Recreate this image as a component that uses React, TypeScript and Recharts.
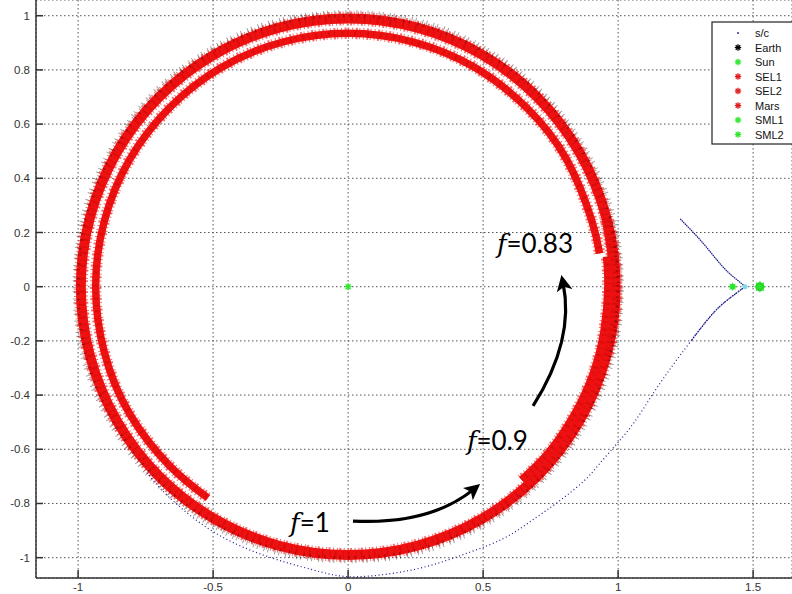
import React from 'react';
import { ComposedChart, Line, Scatter, XAxis, YAxis, CartesianGrid } from 'recharts';

// Axis setup
const X_TICKS = [-1, -0.5, 0, 0.5, 1, 1.5];
const Y_TICKS = [-1, -0.8, -0.6, -0.4, -0.2, 0, 0.2, 0.4, 0.6, 0.8, 1];
const X_DOMAIN: [number, number] = [-1.156, 1.644];
const Y_DOMAIN: [number, number] = [-1.075, 1.058];

// Earth's orbit (black asterisks), one full turn plus a small overlap
const earthOrbit = [
  { x: 0.97, y: -0.26 }, { x: 1.0, y: 0.0 }, { x: 0.97, y: 0.26 }, { x: 0.87, y: 0.5 },
  { x: 0.71, y: 0.71 }, { x: 0.5, y: 0.87 }, { x: 0.26, y: 0.97 }, { x: 0.0, y: 1.0 },
  { x: -0.26, y: 0.97 }, { x: -0.5, y: 0.87 }, { x: -0.71, y: 0.71 }, { x: -0.87, y: 0.5 },
  { x: -0.97, y: 0.26 }, { x: -1.0, y: 0.0 }, { x: -0.97, y: -0.26 }, { x: -0.87, y: -0.5 },
  { x: -0.71, y: -0.71 }, { x: -0.5, y: -0.87 }, { x: -0.26, y: -0.97 }, { x: 0.0, y: -1.0 },
  { x: 0.26, y: -0.97 }, { x: 0.5, y: -0.87 }, { x: 0.71, y: -0.71 }, { x: 0.87, y: -0.5 },
  { x: 0.97, y: -0.26 }, { x: 1.0, y: 0.0 }, { x: 0.97, y: 0.26 },
];

// SEL1 track with f = 1
const sel1F100 = [
  { x: 0.956, y: -0.256 }, { x: 0.99, y: 0.0 }, { x: 0.956, y: 0.256 }, { x: 0.857, y: 0.495 },
  { x: 0.7, y: 0.7 }, { x: 0.495, y: 0.857 }, { x: 0.256, y: 0.956 }, { x: 0.0, y: 0.99 },
  { x: -0.256, y: 0.956 }, { x: -0.495, y: 0.857 }, { x: -0.7, y: 0.7 }, { x: -0.857, y: 0.495 },
  { x: -0.956, y: 0.256 }, { x: -0.99, y: 0.0 }, { x: -0.956, y: -0.256 }, { x: -0.857, y: -0.495 },
  { x: -0.7, y: -0.7 }, { x: -0.495, y: -0.857 }, { x: -0.256, y: -0.956 }, { x: 0.0, y: -0.99 },
  { x: 0.256, y: -0.956 }, { x: 0.495, y: -0.857 }, { x: 0.7, y: -0.7 }, { x: 0.857, y: -0.495 },
  { x: 0.956, y: -0.256 }, { x: 0.99, y: 0.0 }, { x: 0.956, y: 0.256 },
];

// SEL1 track with f = 0.9
const sel1F090 = [
  { x: 0.643, y: -0.713 }, { x: 0.738, y: -0.619 }, { x: 0.834, y: -0.48 },
  { x: 0.905, y: -0.33 }, { x: 0.948, y: -0.167 }, { x: 0.963, y: 0.0 }, { x: 0.958, y: 0.111 },
];

// SEL1 track with f = 0.83
const sel1F083 = [
  { x: 0.931, y: 0.123 }, { x: 0.903, y: 0.242 }, { x: 0.81, y: 0.468 }, { x: 0.661, y: 0.661 },
  { x: 0.468, y: 0.81 }, { x: 0.242, y: 0.903 }, { x: 0.0, y: 0.935 }, { x: -0.242, y: 0.903 },
  { x: -0.468, y: 0.81 }, { x: -0.661, y: 0.661 }, { x: -0.81, y: 0.468 }, { x: -0.903, y: 0.242 },
  { x: -0.935, y: 0.0 }, { x: -0.903, y: -0.242 }, { x: -0.81, y: -0.468 }, { x: -0.661, y: -0.661 },
  { x: -0.519, y: -0.78 },
];

// Spacecraft path (blue dots): incoming branch, then the branch leaving the cusp
const scIncoming = [
  { x: 1.23, y: 0.25 }, { x: 1.315, y: 0.16 }, { x: 1.389, y: 0.072 }, { x: 1.441, y: 0.025 },
  { x: 1.47, y: 0.0 },
];
const scOutgoing = [
  { x: 1.47, y: 0.0 }, { x: 1.41, y: -0.045 }, { x: 1.35, y: -0.1 }, { x: 1.27, y: -0.2 },
  { x: 1.195, y: -0.3 }, { x: 1.126, y: -0.4 }, { x: 1.06, y: -0.5 }, { x: 0.995, y: -0.58 },
  { x: 0.93, y: -0.655 }, { x: 0.87, y: -0.72 }, { x: 0.77, y: -0.8 }, { x: 0.67, y: -0.87 },
  { x: 0.574, y: -0.93 }, { x: 0.45, y: -0.98 }, { x: 0.3, y: -1.03 }, { x: 0.15, y: -1.06 },
  { x: 0.0, y: -1.07 }, { x: -0.13, y: -1.045 }, { x: -0.315, y: -0.99 }, { x: -0.511, y: -0.897 },
  { x: -0.67, y: -0.77 }, { x: -0.75, y: -0.68 },
];
const SC_DENSE_END = 3;

const sun = [{ x: 0, y: 0 }];
const sml1 = [{ x: 1.424, y: 0 }];
const sml2 = [{ x: 1.525, y: 0 }];
const scAtCusp = [{ x: 1.47, y: 0 }];

const legendNames = ['s/c', 'Earth', 'Sun', 'SEL1', 'SEL2', 'Mars', 'SML1', 'SML2'];
const legendColors = ['#1c1c8c', '#000000', '#2ee62e', '#e21a1a', '#e21a1a', '#e21a1a', '#2ee62e', '#2ee62e'];

// Annotation text and arrows, in data units
const fLabels = [
  { text: '=0.83', x: 0.551, y: 0.124 },
  { text: '=0.9', x: 0.44, y: -0.603 },
  { text: '=1', x: -0.215, y: -0.905 },
];
const arrows = [
  { from: [0.018, -0.865], ctrl: [0.303, -0.879], to: [0.466, -0.747] },
  { from: [0.685, -0.44], ctrl: [0.84, -0.197], to: [0.796, 0.014] },
];

const W = 792;
const H = 594;
const PLOT_LEFT = 36;
const PLOT_TOP = 0;
const PLOT_W = W - PLOT_LEFT;
const PLOT_H = H - 16;

const px = (x: number) => PLOT_LEFT + ((x - X_DOMAIN[0]) / (X_DOMAIN[1] - X_DOMAIN[0])) * PLOT_W;
const py = (y: number) => PLOT_TOP + ((Y_DOMAIN[1] - y) / (Y_DOMAIN[1] - Y_DOMAIN[0])) * PLOT_H;

const RED = '#ee1111';
const SC_BLUE = '#1c1c8c';

const asterisk = (cx: number, cy: number, r: number, color: string, sw = 1.2) => {
  const d = r * 0.72;
  return (
    <g stroke={color} strokeWidth={sw}>
      <line x1={cx - r} y1={cy} x2={cx + r} y2={cy} />
      <line x1={cx} y1={cy - r} x2={cx} y2={cy + r} />
      <line x1={cx - d} y1={cy - d} x2={cx + d} y2={cy + d} />
      <line x1={cx - d} y1={cy + d} x2={cx + d} y2={cy - d} />
    </g>
  );
};

const TICK_FONT = "'Liberation Sans Narrow', 'Liberation Sans', Arial, sans-serif";

const YTick = (props: any) => {
  const { x, y, payload } = props;
  return (
    <g>
      <line x1={x} y1={y} x2={x + 7} y2={y} stroke="#333" strokeWidth={1.5} />
      <text x={x - 6} y={y} dy={4} textAnchor="end" fontSize={11.5} fontFamily={TICK_FONT} fill="#333">
        {payload.value}
      </text>
    </g>
  );
};

const XTick = (props: any) => {
  const { x, y, payload } = props;
  return (
    <g>
      <line x1={x} y1={y} x2={x} y2={y - 8} stroke="#333" strokeWidth={1.5} />
      <text x={x} y={y} dy={13} textAnchor="middle" fontSize={11.5} fontFamily={TICK_FONT} fill="#333">
        {payload.value}
      </text>
    </g>
  );
};

const lineProps = { dataKey: 'y', type: 'natural' as const, dot: false, activeDot: false, isAnimationActive: false };

// A band of red asterisks: solid body with ragged edges and darker specks
const track = (id: string, data: { x: number; y: number }[], width: number) => [
  <Line key={id + '-fuzz'} {...lineProps} data={data} stroke={RED} strokeWidth={width + 4}
    strokeDasharray="1 1.5 2 2.5 1 3" strokeOpacity={0.6} />,
  <Line key={id + '-base'} {...lineProps} data={data} stroke={RED} strokeWidth={width} />,
  <Line key={id + '-core'} {...lineProps} data={data} stroke="#b00000" strokeWidth={width - 3}
    strokeDasharray="1 4 2 6" strokeOpacity={0.3} />,
];

export default function App() {
  return (
    <div style={{ position: 'absolute', left: 0, top: 0, width: W, height: H, background: '#fff' }}>
      <ComposedChart width={W} height={H} margin={{ top: 0, right: 0, bottom: 0, left: 0 }}>
        <CartesianGrid stroke="#555" strokeDasharray="1.5 2.5" strokeWidth={1} />
        <XAxis type="number" dataKey="x" domain={X_DOMAIN} ticks={X_TICKS} allowDataOverflow
          height={16} tickSize={0} tickMargin={0} tickLine={false}
          axisLine={{ stroke: '#333', strokeWidth: 1.5 }} tick={<XTick />} interval={0} />
        <YAxis type="number" dataKey="y" domain={Y_DOMAIN} ticks={Y_TICKS} allowDataOverflow
          width={36} tickSize={0} tickMargin={0} tickLine={false}
          axisLine={{ stroke: '#333', strokeWidth: 1.5 }} tick={<YTick />} interval={0} />

        {/* Earth: black asterisks under the f = 1 band */}
        <Line {...lineProps} data={earthOrbit} stroke="#111" strokeWidth={11}
          strokeDasharray="1 3 1 6" strokeOpacity={0.4} />

        {track('f100', sel1F100, 10)}
        {track('f090', sel1F090, 8)}
        {track('f083', sel1F083, 7.5)}

        {/* Earth asterisks showing through the band */}
        <Line {...lineProps} data={earthOrbit} stroke="#300" strokeWidth={3}
          strokeDasharray="1 5 1 8" strokeOpacity={0.5} />

        {/* spacecraft */}
        <Line {...lineProps} data={scIncoming} stroke={SC_BLUE} strokeWidth={1.2} strokeDasharray="1.6 0.6" />
        <Line {...lineProps} data={scOutgoing} stroke={SC_BLUE} strokeWidth={1.2} strokeDasharray="1 2.6" />
        <Line {...lineProps} data={scOutgoing.slice(0, SC_DENSE_END + 1)} stroke={SC_BLUE} strokeWidth={1.2}
          strokeDasharray="1.6 0.8" />

        <Scatter data={sun} dataKey="y" isAnimationActive={false}
          shape={(p: any) => asterisk(p.cx, p.cy, 3.5, '#2ee62e', 1.3)} />
        <Scatter data={scAtCusp} dataKey="y" isAnimationActive={false}
          shape={(p: any) => <circle cx={p.cx} cy={p.cy} r={2.5} fill="#7fd8e8" />} />
        <Scatter data={sml1} dataKey="y" isAnimationActive={false}
          shape={(p: any) => (
            <g>
              <circle cx={p.cx} cy={p.cy} r={3} fill="#2ee62e" />
              {asterisk(p.cx, p.cy, 4, '#2ee62e', 1)}
            </g>
          )} />
        <Scatter data={sml2} dataKey="y" isAnimationActive={false}
          shape={(p: any) => (
            <g>
              <circle cx={p.cx} cy={p.cy} r={4.5} fill="#22c822" />
              {asterisk(p.cx, p.cy, 5.5, '#2ee62e', 1.2)}
            </g>
          )} />
      </ComposedChart>

      <svg width={W} height={H} style={{ position: 'absolute', left: 0, top: 0, pointerEvents: 'none' }}>
        <defs>
          <marker id="head" viewBox="0 0 10 10" refX="5" refY="5" markerWidth="5" markerHeight="5"
            orient="auto" markerUnits="strokeWidth">
            <path d="M0,0 L10,5 L0,10 L2.5,5 Z" fill="#000" />
          </marker>
        </defs>
        {arrows.map((a, i) => (
          <path key={i}
            d={`M${px(a.from[0])},${py(a.from[1])} Q${px(a.ctrl[0])},${py(a.ctrl[1])} ${px(a.to[0])},${py(a.to[1])}`}
            fill="none" stroke="#000" strokeWidth={3.2} markerEnd="url(#head)" />
        ))}
        {fLabels.map((l, i) => (
          <text key={i} x={px(l.x)} y={py(l.y)} fontSize={26} fill="#000">
            <tspan fontFamily="'DejaVu Serif', 'Liberation Serif', serif" fontStyle="italic">f</tspan>
            <tspan fontFamily="Lato, 'Open Sans', sans-serif">{l.text}</tspan>
          </text>
        ))}

        {/* legend */}
        <g fontFamily="'Liberation Sans', Arial, sans-serif" fontSize={11}>
          <rect x={712} y={22} width={100} height={122} fill="#fff" stroke="#222" strokeWidth={1.2} />
          {legendNames.map((name, i) => {
            const cy = 33 + i * 14.5;
            return (
              <g key={name}>
                {i === 0
                  ? <circle cx={738} cy={cy} r={0.9} fill={legendColors[i]} />
                  : asterisk(738, cy, 3.2, legendColors[i], 1.3)}
                <text x={755} y={cy + 4} fill="#111">{name}</text>
              </g>
            );
          })}
        </g>
      </svg>
    </div>
  );
}
